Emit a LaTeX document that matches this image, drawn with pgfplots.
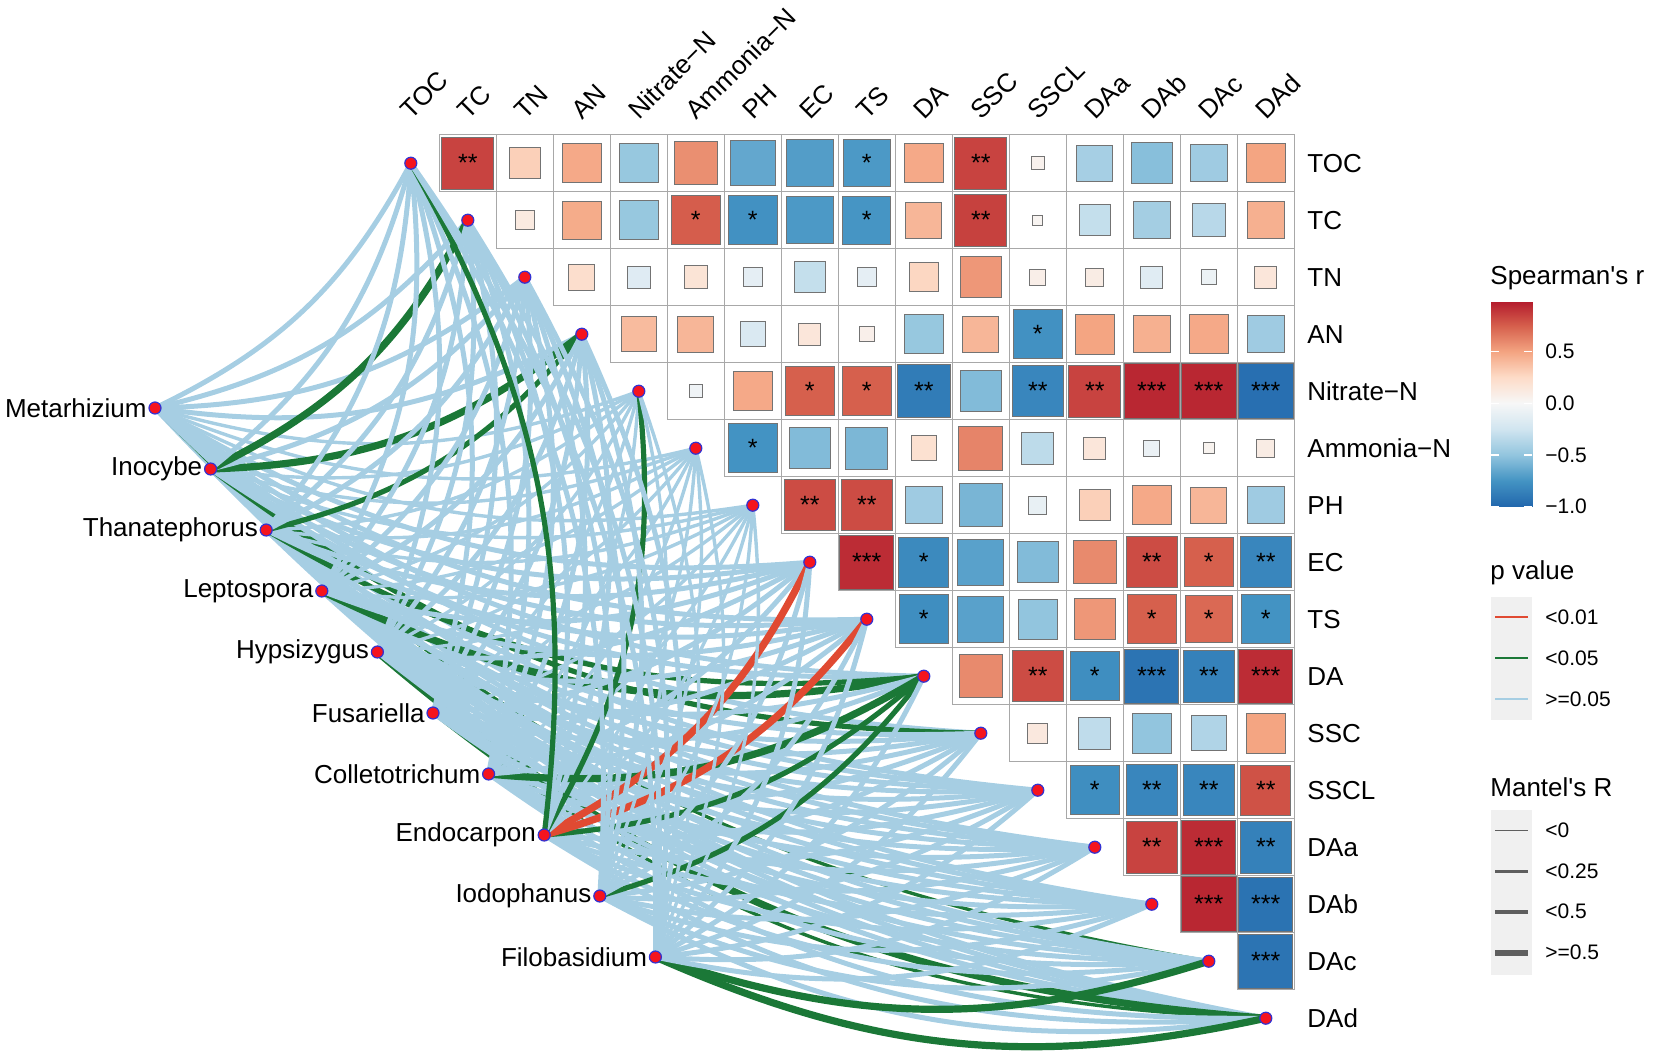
\documentclass[border=0pt]{standalone}
\usepackage{pgfplots}
\usepackage{pgfplotstable}
\usepackage{fontspec}
\setmainfont{Liberation Sans}
\pgfplotsset{compat=1.18}

\definecolor{lblue}{HTML}{A6CEE3}
\definecolor{dgreen}{HTML}{1B7837}
\definecolor{lred}{HTML}{E04A32}
\definecolor{nodered}{HTML}{F5141E}
\definecolor{nodeblue}{HTML}{3232D2}
\definecolor{keybg}{HTML}{F0F0F0}
\definecolor{gridgray}{HTML}{A8A8A8}
\definecolor{keygray}{HTML}{5E5E5E}

\newcommand\lab{\fontsize{13}{15}\selectfont}
\newcommand\sml{\fontsize{10.5}{12}\selectfont}

% link styles: colour letter (b, g, r) and Mantel's R width class
\tikzset{
  lnb2/.style={draw=lblue, line width=1.7pt},
  lnb3/.style={draw=lblue, line width=2.5pt},
  lng2/.style={draw=dgreen, line width=1.7pt},
  lng3/.style={draw=dgreen, line width=2.6pt},
  lng4/.style={draw=dgreen, line width=3.6pt},
  lnr4/.style={draw=lred, line width=3.6pt},
}

% species nodes (left)
\pgfplotstableread{
k x y name
0 155.0 408 Metarhizium
1 210.6 469 Inocybe
2 266.2 530 Thanatephorus
3 321.8 591 Leptospora
4 377.4 652 Hypsizygus
5 433.0 713 Fusariella
6 488.6 774 Colletotrichum
7 544.2 835 Endocarpon
8 599.8 896 Iodophanus
9 655.4 957 Filobasidium
}\spec

% environmental variables (diagonal)
\pgfplotstableread{
j x y name
0 410.8 163.2 TOC
1 467.8 220.2 TC
2 524.8 277.2 TN
3 581.8 334.2 AN
4 638.8 391.2 Nitrate−N
5 695.8 448.2 Ammonia−N
6 752.8 505.2 PH
7 809.8 562.2 EC
8 866.8 619.2 TS
9 923.8 676.2 DA
10 980.8 733.2 SSC
11 1037.8 790.2 SSCL
12 1094.8 847.2 DAa
13 1151.8 904.2 DAb
14 1208.8 961.2 DAc
15 1265.8 1018.2 DAd
}\env

% Mantel links: row = variable, column = species
\pgfplotstableread{
j s0 s1 s2 s3 s4 s5 s6 s7 s8 s9
0 b3 b3 b3 b3 b3 b3 b3 g3 b3 b3
1 b3 g4 b3 b3 b3 b3 b3 b3 b3 b3
2 b3 b3 b3 b3 b3 b3 b3 b3 b3 b3
3 b3 g4 g3 b3 b3 b3 b3 b3 b3 b3
4 b2 b2 b2 b2 b2 b2 b2 g3 b2 b2
5 b2 b2 b2 b2 b2 b2 b2 b2 b2 b2
6 b2 b2 b2 b2 b2 b2 b2 b2 b2 b2
7 b3 b3 b3 b3 b3 b3 b3 r4 b3 b3
8 b3 b3 b3 b3 b3 b3 b3 r4 b3 b3
9 b3 b3 g3 g4 b3 b3 g4 g3 g3 b3
10 b3 g3 b3 b3 b3 b3 b3 b3 b3 b3
11 b3 b3 b3 b3 b3 b3 b3 b3 b3 b3
12 b3 b3 b3 b3 b3 b3 b3 b3 b3 b3
13 b3 b3 b3 b3 b3 b3 b3 b3 b3 b3
14 g2 b3 b3 b3 b3 b3 b3 b3 b3 g4
15 b3 b3 b3 b3 g4 g2 b3 b3 b3 g4
}\links

% Spearman correlations, upper triangle
\pgfplotstableread{
i j r
0 1 0.85
0 2 0.30
0 3 0.48
0 4 -0.48
0 5 0.58
0 6 -0.65
0 7 -0.70
0 8 -0.72
0 9 0.48
0 10 0.85
0 11 0.05
0 12 -0.42
0 13 -0.53
0 14 -0.45
0 15 0.50
1 2 0.12
1 3 0.47
1 4 -0.48
1 5 0.76
1 6 -0.76
1 7 -0.72
1 8 -0.74
1 9 0.42
1 10 0.86
1 11 0.03
1 12 -0.30
1 13 -0.43
1 14 -0.35
1 15 0.45
2 3 0.22
2 4 -0.16
2 5 0.17
2 6 -0.12
2 7 -0.30
2 8 -0.12
2 9 0.27
2 10 0.55
2 11 0.08
2 12 0.10
2 13 -0.15
2 14 -0.07
2 15 0.15
3 4 0.40
3 5 0.42
3 6 -0.19
3 7 0.15
3 8 0.07
3 9 -0.48
3 10 0.42
3 11 -0.76
3 12 0.50
3 13 0.45
3 14 0.48
3 15 -0.45
4 5 -0.05
4 6 0.48
4 7 0.75
4 8 0.75
4 9 -0.88
4 10 -0.55
4 11 -0.82
4 12 0.85
4 13 0.95
4 14 0.95
4 15 -0.95
5 6 -0.75
5 7 -0.55
5 8 -0.57
5 9 0.20
5 10 0.62
5 11 -0.33
5 12 0.15
5 13 -0.08
5 14 0.04
5 15 0.10
6 7 0.82
6 8 0.82
6 9 -0.45
6 10 -0.58
6 11 -0.10
6 12 0.30
6 13 0.48
6 14 0.42
6 15 -0.45
7 8 0.93
7 9 -0.80
7 10 -0.68
7 11 -0.55
7 12 0.60
7 13 0.82
7 14 0.75
7 15 -0.82
8 9 -0.78
8 10 -0.68
8 11 -0.50
8 12 0.55
8 13 0.75
8 14 0.72
8 15 -0.75
9 10 0.60
9 11 0.82
9 12 -0.78
9 13 -0.92
9 14 -0.85
9 15 0.93
10 11 0.13
10 12 -0.32
10 13 -0.50
10 14 -0.38
10 15 0.50
11 12 -0.78
11 13 -0.82
11 14 -0.82
11 15 0.80
12 13 0.85
12 14 0.93
12 15 -0.85
13 14 0.95
13 15 -0.93
14 15 -0.92
}\corr

\pgfplotstableread{
i j s
0 1 **
0 8 *
0 10 **
1 5 *
1 6 *
1 8 *
1 10 **
3 11 *
4 7 *
4 8 *
4 9 **
4 11 **
4 12 **
4 13 ***
4 14 ***
4 15 ***
5 6 *
6 7 **
6 8 **
7 8 ***
7 9 *
7 13 **
7 14 *
7 15 **
8 9 *
8 13 *
8 14 *
8 15 *
9 11 **
9 12 *
9 13 ***
9 14 **
9 15 ***
11 12 *
11 13 **
11 14 **
11 15 **
12 13 **
12 14 ***
12 15 **
13 14 ***
13 15 ***
14 15 ***
}\stars

% colour bar strip
\pgfplotstableread{
x y c
1491 506.70 -1
1532 506.70 -1
1532 480.85 -0.75
1491 480.85 -0.75
1491 480.85 -0.75
1532 480.85 -0.75
1532 455.00 -0.5
1491 455.00 -0.5
1491 455.00 -0.5
1532 455.00 -0.5
1532 429.15 -0.25
1491 429.15 -0.25
1491 429.15 -0.25
1532 429.15 -0.25
1532 403.30 0
1491 403.30 0
1491 403.30 0
1532 403.30 0
1532 377.45 0.25
1491 377.45 0.25
1491 377.45 0.25
1532 377.45 0.25
1532 351.60 0.5
1491 351.60 0.5
1491 351.60 0.5
1532 351.60 0.5
1532 325.75 0.75
1491 325.75 0.75
1491 325.75 0.75
1532 325.75 0.75
1532 301.70 0.983
1491 301.70 0.983
}\cbar

\begin{document}
\begin{tikzpicture}
\begin{axis}[name=ax, scale only axis, width=827pt, height=532pt,
  xmin=0, xmax=1654, ymin=0, ymax=1064, y dir=reverse,
  hide axis, clip=false,
  colormap={rdbu}{rgb255=(33,102,172) rgb255=(67,147,195) rgb255=(146,197,222)
    rgb255=(209,229,240) rgb255=(247,247,247) rgb255=(253,219,199)
    rgb255=(244,165,130) rgb255=(214,96,77) rgb255=(178,24,43)},
  point meta min=-1, point meta max=1]

% cell borders
\addplot[only marks, mark=square, mark size=14.25pt,
  mark options={draw=gridgray, line width=0.6pt}]
  table[x expr=410.8+57*\thisrow{j}, y expr=163.2+57*\thisrow{i}]{\corr};

% correlation squares, side proportional to sqrt(|r|)
\addplot[scatter, only marks, mark=square*, point meta=explicit,
  scatter/use mapped color={draw=black!55, fill=mapped color},
  visualization depends on={14.0*sqrt(abs(\thisrow{r}))\as\msz},
  scatter/@pre marker code/.append style={/tikz/mark size=\msz},
  mark options={line width=0.5pt}]
  table[x expr=410.8+57*\thisrow{j}, y expr=163.2+57*\thisrow{i}, meta=r]{\corr};

% significance stars
\addplot[only marks, mark=none, nodes near coords, point meta=explicit symbolic,
  nodes near coords style={anchor=center, inner sep=0pt, font=\fontsize{12.5}{12.5}\selectfont}]
  table[x expr=410.8+57*\thisrow{j}, y expr=163.2+57*\thisrow{i}, meta=s]{\stars};

% Mantel links, last variable first
\pgfplotsforeachungrouped \ii in {0,...,15}{%
  \pgfmathtruncatemacro\jj{15-\ii}%
  \pgfplotstablegetelem{\jj}{x}\of\env \let\vx\pgfplotsretval
  \pgfplotstablegetelem{\jj}{y}\of\env \let\vy\pgfplotsretval
  \pgfplotsforeachungrouped \kk in {0,...,9}{%
    \pgfplotstablegetelem{\kk}{x}\of\spec \let\sx\pgfplotsretval
    \pgfplotstablegetelem{\kk}{y}\of\spec \let\sy\pgfplotsretval
    \pgfplotstablegetelem{\jj}{s\kk}\of\links \let\lc\pgfplotsretval
    \edef\temp{\noexpand\draw[ln\lc] (axis cs:\sx,\sy) to[bend right=18] (axis cs:\vx,\vy);}%
    \temp
  }%
}

% nodes
\addplot[only marks, mark=*, mark size=3pt,
  mark options={fill=nodered, draw=nodeblue, line width=0.6pt}]
  table[x=x, y=y]{\spec};
\addplot[only marks, mark=*, mark size=3pt,
  mark options={fill=nodered, draw=nodeblue, line width=0.6pt}]
  table[x=x, y=y]{\env};

% labels
\addplot[draw=none, mark=none, nodes near coords, point meta=explicit symbolic,
  nodes near coords style={anchor=east, xshift=-4pt, inner sep=0pt, font=\lab}]
  table[x=x, y=y, meta=name]{\spec};
\addplot[draw=none, mark=none, nodes near coords, point meta=explicit symbolic,
  nodes near coords style={anchor=west, inner sep=0pt, font=\lab}]
  table[x expr=1307, y=y, meta=name]{\env};
\addplot[draw=none, mark=none, nodes near coords, point meta=explicit symbolic,
  nodes near coords style={anchor=base west, rotate=45, inner sep=0pt, font=\lab}]
  table[x expr=\thisrow{x}+0.5, y expr=121, meta=name]{\env};

% colour bar
\addplot[patch, patch type=rectangle, shader=interp, point meta=explicit]
  table[x=x, y=y, meta=c]{\cbar};
\addplot[only marks, mark=-, mark size=2pt, mark options={draw=white, line width=0.6pt}]
  coordinates {(1495,351.6) (1528,351.6) (1495,403.3) (1528,403.3)
               (1495,455.0) (1528,455.0) (1495,506.7) (1528,506.7)};
\node[anchor=west, inner sep=0pt, font=\lab] at (axis cs:1490,278) {Spearman\textquotesingle s r};
\node[anchor=west, inner sep=0pt, font=\sml] at (axis cs:1545,351.6) {0.5};
\node[anchor=west, inner sep=0pt, font=\sml] at (axis cs:1545,403.3) {0.0};
\node[anchor=west, inner sep=0pt, font=\sml] at (axis cs:1545,455.0) {−0.5};
\node[anchor=west, inner sep=0pt, font=\sml] at (axis cs:1545,506.7) {−1.0};

% p value legend
\node[anchor=west, inner sep=0pt, font=\lab] at (axis cs:1490,573) {p value};
\fill[keybg] (axis cs:1491,597) rectangle (axis cs:1532,720);
\addplot[lred, line width=0.85pt] coordinates {(1495,617.3) (1528,617.3)};
\addplot[dgreen, line width=0.85pt] coordinates {(1495,658.3) (1528,658.3)};
\addplot[lblue, line width=0.85pt] coordinates {(1495,699.3) (1528,699.3)};
\node[anchor=west, inner sep=0pt, font=\sml] at (axis cs:1545,617.3) {<0.01};
\node[anchor=west, inner sep=0pt, font=\sml] at (axis cs:1545,658.3) {<0.05};
\node[anchor=west, inner sep=0pt, font=\sml] at (axis cs:1545,699.3) {>=0.05};

% Mantel's R legend
\node[anchor=west, inner sep=0pt, font=\lab] at (axis cs:1490,786.7) {Mantel\textquotesingle s R};
\fill[keybg] (axis cs:1491,810) rectangle (axis cs:1532,975);
\addplot[keygray, line width=0.65pt] coordinates {(1495,830.7) (1528,830.7)};
\addplot[keygray, line width=1.35pt] coordinates {(1495,871.7) (1528,871.7)};
\addplot[keygray, line width=2pt] coordinates {(1495,911.7) (1528,911.7)};
\addplot[keygray, line width=3pt] coordinates {(1495,952.7) (1528,952.7)};
\node[anchor=west, inner sep=0pt, font=\sml] at (axis cs:1545,830.7) {<0};
\node[anchor=west, inner sep=0pt, font=\sml] at (axis cs:1545,871.7) {<0.25};
\node[anchor=west, inner sep=0pt, font=\sml] at (axis cs:1545,911.7) {<0.5};
\node[anchor=west, inner sep=0pt, font=\sml] at (axis cs:1545,952.7) {>=0.5};
\end{axis}
\pgfresetboundingbox
\path[use as bounding box] (ax.south west) rectangle (ax.north east);
\end{tikzpicture}
\end{document}
